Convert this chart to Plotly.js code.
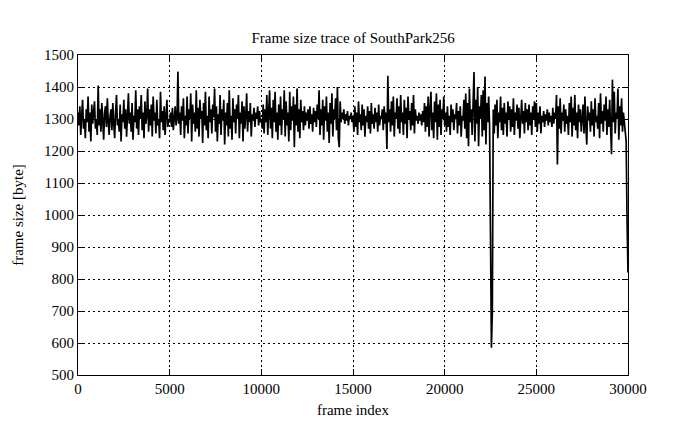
<!DOCTYPE html>
<html>
<head>
<meta charset="utf-8">
<script src="https://cdn.plot.ly/plotly-3.0.1.min.js"></script>
<style>html,body{margin:0;padding:0;background:#fff;}#chart{width:695px;height:429px;}</style>
</head>
<body>
<div id="chart"></div>
<script>
// Frame index step between sampled values (frames)
const frameStep = 50;

// Frame sizes in bytes, 50 samples per 2500 frames
const sizesA = [1320,1280,1340,1250,1310,1360,1270,1300,1240,1330,1290,1370,1260,1320,1230,1345,1285,1310,1355,1270,1300,1250,1405,1280,1330,1260,1350,1295,1235,1320,1340,1275,1365,1290,1250,1310,1330,1265,1350,1285,1240,1320,1375,1280,1300,1260,1345,1230,1315,1290];
const sizesB = [1360,1270,1330,1245,1300,1380,1285,1320,1260,1350,1235,1310,1290,1390,1270,1330,1250,1340,1300,1375,1265,1320,1240,1355,1285,1310,1395,1260,1330,1280,1345,1245,1370,1295,1320,1255,1360,1280,1300,1240,1385,1290,1325,1265,1340,1250,1310,1360,1275,1300];
const sizesC = [1290,1320,1275,1335,1265,1310,1340,1280,1300,1448,1285,1320,1250,1340,1295,1365,1240,1310,1280,1370,1255,1330,1300,1380,1230,1345,1285,1320,1260,1390,1270,1335,1245,1360,1300,1325,1225,1350,1280,1385,1265,1310,1240,1370,1290,1330,1255,1345,1305,1395];
const sizesD = [1260,1340,1230,1315,1285,1375,1250,1330,1295,1360,1220,1320,1280,1350,1245,1390,1270,1310,1235,1365,1290,1330,1255,1345,1300,1375,1240,1320,1285,1355,1230,1340,1270,1310,1380,1260,1325,1290,1350,1245,1315,1295,1335,1275,1320,1300,1340,1280,1325,1290];
const sizesE = [1300,1270,1345,1255,1330,1290,1375,1250,1320,1390,1270,1335,1240,1360,1290,1385,1260,1320,1235,1345,1280,1370,1250,1330,1300,1390,1245,1355,1280,1320,1230,1385,1265,1340,1295,1370,1212,1345,1280,1395,1260,1330,1240,1360,1290,1325,1265,1340,1280,1320];
const sizesF = [1295,1330,1270,1340,1285,1315,1260,1335,1290,1325,1275,1345,1300,1390,1250,1330,1280,1360,1235,1340,1295,1370,1260,1320,1225,1350,1285,1380,1245,1330,1300,1365,1265,1400,1240,1212,1355,1290,1320,1300,1330,1285,1315,1295,1325,1280,1310,1300,1320,1290];
const sizesG = [1310,1260,1340,1275,1320,1250,1355,1290,1315,1265,1345,1280,1330,1245,1310,1290,1340,1270,1325,1255,1350,1285,1315,1270,1335,1290,1320,1260,1345,1280,1310,1300,1330,1265,1340,1285,1320,1206,1435,1290,1330,1260,1355,1280,1370,1245,1320,1300,1365,1270];
const sizesH = [1340,1255,1375,1290,1320,1250,1360,1285,1335,1240,1370,1300,1325,1265,1350,1280,1375,1255,1330,1295,1310,1285,1320,1295,1315,1280,1325,1290,1350,1260,1340,1275,1370,1245,1330,1385,1265,1320,1240,1355,1290,1380,1235,1345,1275,1360,1250,1330,1300,1370];
const sizesI = [1280,1320,1260,1340,1275,1310,1250,1345,1290,1330,1265,1315,1300,1350,1255,1325,1280,1340,1245,1310,1295,1360,1270,1380,1240,1350,1215,1395,1290,1330,1250,1385,1447,1230,1360,1285,1400,1215,1340,1300,1375,1245,1390,1265,1433,1220,1350,1290,1370,1280];
const sizesJ = [870,585,700,1330,1255,1345,1280,1360,1240,1320,1290,1370,1265,1335,1250,1350,1285,1320,1245,1355,1300,1340,1260,1330,1275,1365,1250,1320,1295,1345,1270,1335,1240,1310,1360,1285,1325,1255,1350,1290,1330,1265,1345,1280,1320,1250,1340,1300,1355,1275];
const sizesK = [1350,1260,1320,1285,1340,1255,1310,1290,1325,1275,1315,1295,1330,1280,1320,1290,1310,1275,1335,1285,1320,1300,1375,1158,1340,1270,1365,1255,1320,1295,1345,1260,1330,1285,1310,1250,1350,1290,1370,1245,1335,1280,1375,1265,1320,1240,1345,1290,1330,1260];
const sizesL = [1300,1345,1255,1370,1280,1220,1340,1295,1320,1260,1355,1280,1330,1245,1365,1290,1310,1270,1350,1240,1380,1285,1325,1260,1345,1295,1370,1250,1330,1275,1360,1240,1190,1423,1290,1385,1255,1320,1300,1395,1235,1340,1280,1365,1260,1320,1290,1250,1230,980,820];

const xTicks = [0,5000,10000,15000,20000,25000,30000];
const yTicks = [500,600,700,800,900,1000,1100,1200,1300,1400,1500];

const sizes = [].concat(sizesA, sizesB, sizesC, sizesD, sizesE, sizesF, sizesG, sizesH, sizesI, sizesJ, sizesK, sizesL);
const frames = sizes.map((_, i) => i * frameStep);

const serif = '"Liberation Serif", "Times New Roman", serif';

const trace = {
  x: frames,
  y: sizes,
  type: 'scatter',
  mode: 'lines',
  line: {color: '#000', width: 1.7},
  hoverinfo: 'skip'
};

const axisCommon = {
  showline: true,
  linecolor: '#000',
  linewidth: 1,
  mirror: 'ticks',
  ticks: 'inside',
  ticklen: 6,
  tickcolor: '#000',
  tickwidth: 1,
  showgrid: true,
  gridcolor: '#000',
  gridwidth: 1,
  griddash: '2px,3px',
  zeroline: false,
  tickfont: {family: serif, size: 15, color: '#000'}
};

const layout = {
  width: 695,
  height: 429,
  margin: {l: 78, r: 67, t: 55, b: 54},
  paper_bgcolor: '#fff',
  plot_bgcolor: '#fff',
  showlegend: false,
  title: {
    text: 'Frame size trace of SouthPark256',
    font: {family: serif, size: 15, color: '#000'},
    x: 0.508, xanchor: 'center', y: 0.913, yanchor: 'middle'
  },
  xaxis: Object.assign({}, axisCommon, {
    range: [0, 30000],
    tickvals: xTicks,
    ticktext: xTicks.map(String),
    title: {text: 'frame index', font: {family: serif, size: 15, color: '#000'}, standoff: 8}
  }),
  yaxis: Object.assign({}, axisCommon, {
    range: [500, 1500],
    tickvals: yTicks,
    ticktext: yTicks.map(String),
    title: {text: 'frame size [byte]', font: {family: serif, size: 15, color: '#000'}, standoff: 16}
  })
};

Plotly.newPlot('chart', [trace], layout, {displayModeBar: false, staticPlot: true});
</script>
</body>
</html>
